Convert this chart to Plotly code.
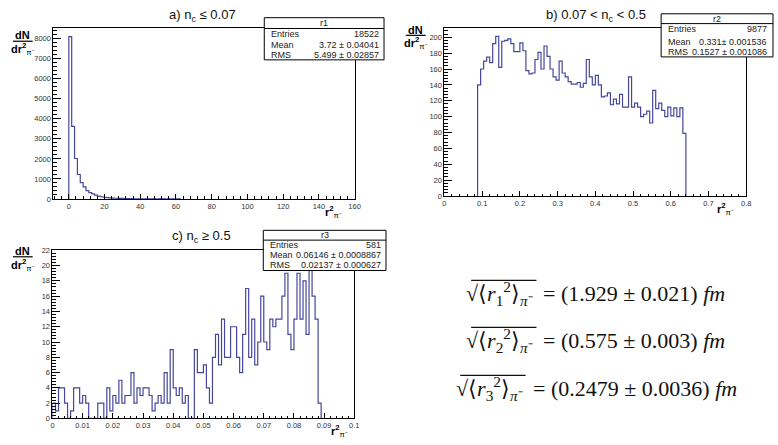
import plotly.graph_objects as go

W, H = 778, 445

# ---------------- data ----------------
# panel a : r1 histogram (bin start, bin width, counts)
a_start, a_width = 0.0, 1.6
a_counts = [8100, 3620, 2020, 1220, 820, 600, 420, 320, 250, 190, 140, 110, 85, 68,
            55, 45, 37, 30, 25, 21, 17, 14, 12, 10, 9, 8, 7, 6, 5, 5, 4, 4, 3, 3,
            3, 2, 2, 2, 1]
# panel b : r2 histogram
b_start, b_width = 0.088, 0.008
b_counts = [140, 160, 170, 175, 168, 192, 201, 162, 195, 196, 198, 192, 182, 182,
            193, 183, 158, 154, 155, 172, 181, 160, 189, 176, 160, 150, 146, 170,
            155, 150, 144, 141, 141, 143, 137, 142, 172, 150, 140, 152, 140, 125,
            126, 130, 115, 122, 116, 128, 112, 112, 150, 112, 117, 112, 100, 103,
            107, 92, 133, 110, 117, 108, 100, 112, 101, 111, 100, 111, 79]
# panel c : r3 histogram
c_start, c_width = 0.0, 0.001
c_counts = [2, 1, 4, 4, 2, 0, 1, 4, 4, 2, 3, 2, 0, 0, 0, 2, 2, 0, 4, 1, 3, 2, 5, 2,
            3, 3, 6, 2, 4, 3, 4, 4, 3, 1, 2, 3, 2, 6, 2, 9, 4, 3, 4, 2, 3, 0, 0, 9,
            6, 6, 7, 4, 2, 8, 11, 7, 13, 8, 8, 12, 12, 8, 6, 11, 17, 8, 13, 7, 10,
            16, 10, 9, 13, 12, 13, 13, 16, 19, 11, 9, 13, 19, 13, 18, 11, 21, 16,
            13, 2]

titles = ["a) n<sub>c</sub> ≤ 0.07", "b) 0.07 < n<sub>c</sub> < 0.5", "c) n<sub>c</sub> ≥ 0.5"]
stat_names = ["r1", "r2", "r3"]
stat_entries = ["18522", "9877", "581"]
stat_mean = ["3.72 ± 0.04041", "0.331± 0.001536", "0.06146 ± 0.0008867"]
stat_rms = ["5.499 ± 0.02857", "0.1527 ± 0.001086", "0.02137 ± 0.000627"]

eq_index = ["1", "2", "3"]
eq_value = ["(1.929 ± 0.021)", "(0.575 ± 0.003)", "(0.2479 ± 0.0036)"]

# ---------------- helpers ----------------
def px(x):
    return x / W

def py(y):
    return 1 - y / H

def step_xy(x0, w, counts):
    xs = [x0] + [x0 + i * w for i in range(len(counts))] + [x0 + len(counts) * w]
    ys = [0] + list(counts) + [0]
    return xs, ys

HCOL = "#46469c"
TICKFONT = dict(family="Liberation Sans, Arial, sans-serif", size=7.5, color="#333")
SFONT = dict(family="Liberation Sans, Arial, sans-serif", size=9, color="#222")

fig = go.Figure()
for i, (s, w, c) in enumerate([(a_start, a_width, a_counts),
                               (b_start, b_width, b_counts),
                               (c_start, c_width, c_counts)]):
    xs, ys = step_xy(s, w, c)
    suffix = "" if i == 0 else str(i + 1)
    fig.add_trace(go.Scatter(x=xs, y=ys, mode="lines", line=dict(color=HCOL, width=1.2, shape="hv"),
                             xaxis="x" + suffix, yaxis="y" + suffix, showlegend=False,
                             hoverinfo="skip"))

def xaxis(domain, rng, dt, mdt, anchor):
    return dict(domain=domain, range=rng, anchor=anchor, showgrid=False, zeroline=False,
                showline=True, mirror=True, linecolor="black", linewidth=1,
                ticks="inside", ticklen=5, tickwidth=1, tickcolor="black",
                tick0=0, dtick=dt, tickfont=TICKFONT,
                minor=dict(ticks="inside", ticklen=2.5, tickwidth=1, tickcolor="black",
                           tick0=0, dtick=mdt, showgrid=False))

def yaxis(domain, rng, dt, mdt, anchor):
    return dict(domain=domain, range=rng, anchor=anchor, showgrid=False, zeroline=False,
                showline=True, mirror=True, linecolor="black", linewidth=1,
                ticks="inside", ticklen=8, tickwidth=1, tickcolor="black",
                tick0=0, dtick=dt, tickfont=TICKFONT,
                minor=dict(ticks="inside", ticklen=4, tickwidth=1, tickcolor="black",
                           tick0=0, dtick=mdt, showgrid=False))

a_max = max(a_counts) * 1.05
b_max = max(b_counts) * 1.05
c_max = max(c_counts) * 1.05

fig.update_layout(
    width=W, height=H, margin=dict(l=0, r=0, t=0, b=0),
    paper_bgcolor="white", plot_bgcolor="white", showlegend=False,
    xaxis=xaxis([px(52), px(357)], [-8.6, 160.4], 20, 4, "y"),
    yaxis=yaxis([py(199), py(25)], [0, a_max], 1000, 200, "x"),
    xaxis2=xaxis([px(447), px(752)], [0, 0.8], 0.1, 0.02, "y2"),
    yaxis2=yaxis([py(196), py(25)], [0, b_max], 20, 4, "x2"),
    xaxis3=xaxis([px(51), px(356)], [0, 0.1], 0.01, 0.002, "y3"),
    yaxis3=yaxis([py(423), py(251)], [0, c_max], 2, 0.4, "x3"),
)

ann = []
shapes = []

# titles
for t, (cx, cy) in zip(titles, [(203, 12), (600, 12), (202, 237)]):
    ann.append(dict(text=t, x=px(cx), y=py(cy), xref="paper", yref="paper",
                    showarrow=False, xanchor="center", yanchor="middle",
                    font=dict(family="Liberation Sans, Arial, sans-serif", size=13, color="#111")))

# stats boxes: (left, right, top, header_line, bottom, rows y)
boxes = [(265, 386, 14, 25, 57, [31, 41.5, 52]),
         (666, 779, 10, 20, 54, [26, 39, 49]),
         (264, 388, 231, 241, 272, [245.5, 256, 266.5])]
for k, (l, r, t, hl, b, rows) in enumerate(boxes):
    shapes.append(dict(type="rect", xref="paper", yref="paper", x0=px(l), x1=px(r),
                       y0=py(b), y1=py(t), line=dict(color="black", width=1),
                       fillcolor="white", layer="above"))
    shapes.append(dict(type="line", xref="paper", yref="paper", x0=px(l), x1=px(r),
                       y0=py(hl), y1=py(hl), line=dict(color="black", width=1), layer="above"))
    ann.append(dict(text=stat_names[k], x=px((l + r) / 2), y=py((t + hl) / 2), xref="paper",
                    yref="paper", showarrow=False, xanchor="center", yanchor="middle", font=SFONT))
    labels = ["Entries", "Mean", "RMS"]
    vals = [stat_entries[k], stat_mean[k], stat_rms[k]]
    for lab, val, yy in zip(labels, vals, rows):
        ann.append(dict(text=lab, x=px(l + 5), y=py(yy), xref="paper", yref="paper",
                        showarrow=False, xanchor="left", yanchor="middle", font=SFONT))
        ann.append(dict(text=val, x=px(min(r, 778) - 3), y=py(yy), xref="paper", yref="paper",
                        showarrow=False, xanchor="right", yanchor="middle", font=SFONT))

# y-axis titles dN / dr^2
TF = dict(family="Liberation Sans, Arial, sans-serif", size=11, color="black")
for (cx, ytop, ybar, ybot) in [(21, 32, 38, 46), (418, 27, 32, 40), (21, 252, 258, 266)]:
    ann.append(dict(text="<b>dN</b>", x=px(cx), y=py(ytop), xref="paper", yref="paper",
                    showarrow=False, xanchor="center", yanchor="middle", font=TF))
    ann.append(dict(text="<b>dr</b><sup><b>2</b></sup><sub>π⁻</sub>", x=px(cx), y=py(ybot),
                    xref="paper", yref="paper", showarrow=False, xanchor="center",
                    yanchor="middle", font=TF))
    shapes.append(dict(type="line", xref="paper", yref="paper", x0=px(cx - 10), x1=px(cx + 10),
                       y0=py(ybar), y1=py(ybar), line=dict(color="black", width=1.2)))

# x-axis titles r^2
for (cx, cy) in [(335, 212), (731, 209), (341, 436)]:
    ann.append(dict(text="<b>r</b><sup><b>2</b></sup><sub>π⁻</sub>", x=px(cx), y=py(cy),
                    xref="paper", yref="paper", showarrow=False, xanchor="center",
                    yanchor="middle", font=TF))

# equations: left side (radical) + right side (value)
EF = dict(family="Liberation Serif, Times New Roman, serif", size=22, color="#111")
eq_geom = [(539, 295, 65), (539, 343, 65), (528, 392, 65)]  # (split x, centre y, radicand width)
for idx, val, (sx, cy, rw) in zip(eq_index, eq_value, eq_geom):
    lhs = "√⟨<i>r</i><sub>" + idx + "</sub><sup>2</sup>⟩<sub><i>π</i>⁻</sub>"
    rhs = "= " + val + " <i>fm</i>"
    ann.append(dict(text=lhs, x=px(sx), y=py(cy), xref="paper", yref="paper",
                    showarrow=False, xanchor="right", yanchor="middle", font=EF))
    ann.append(dict(text=rhs, x=px(sx + 6), y=py(cy), xref="paper", yref="paper",
                    showarrow=False, xanchor="left", yanchor="middle", font=EF))
    shapes.append(dict(type="line", xref="paper", yref="paper", x0=px(sx - rw), x1=px(sx + 1),
                       y0=py(cy - 13), y1=py(cy - 13), line=dict(color="#111", width=1.2)))

fig.update_layout(annotations=ann, shapes=shapes)
fig.write_html("out.html")
